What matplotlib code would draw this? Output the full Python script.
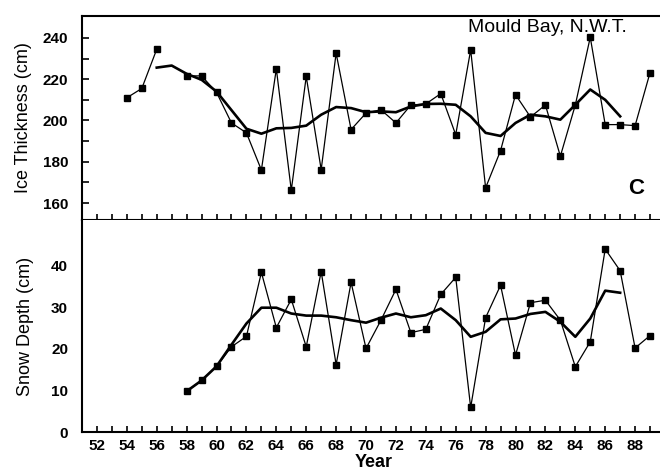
import matplotlib
matplotlib.use("Agg")
import matplotlib.pyplot as plt
import numpy as np

plt.rcParams['font.family'] = ['Liberation Sans', 'DejaVu Sans']

# Ice thickness at Mould Bay (cm), 1954-1989 (no value for 1957)
ice_years = list(range(54, 90))
ice_cm = [211, 215.5, 234.5, np.nan, 221.6, 221.6, 213.6, 198.8, 194, 176,
          225, 166.2, 221.3, 176.2, 232.6, 195.6, 203.6, 205.2, 198.8, 207.5,
          208, 213, 193.1, 234.2, 167.4, 185.4, 212.5, 201.7, 207.5, 182.7,
          207.5, 240.3, 198, 198, 197.5, 223.2]

# smoothed ice thickness, 1956-1987
ice_smooth_years = list(range(56, 88))
ice_smooth = [225.6, 226.6, 222.6, 219.7, 214, 205, 196, 193.6, 196.2, 196.4,
              197.5, 202.8, 206.5, 206, 204, 204.4, 204, 206.8, 208, 208.1,
              207.6, 202, 194, 192.5, 198.8, 202.8, 202, 200.4, 207.6, 215,
              210, 202]

# Snow depth (cm), 1958-1989
snow_years = list(range(58, 90))
snow_cm = [9.8, 12.4, 15.8, 20.5, 23, 38.4, 25.1, 31.9, 20.5, 38.6,
           16.2, 36, 20.1, 26.9, 34.3, 23.9, 24.7, 33.1, 37.2, 5.9,
           27.5, 35.3, 18.5, 31.1, 31.7, 26.9, 15.7, 21.7, 44, 38.8,
           20.2, 23.2]

# smoothed snow depth, 1958-1987
snow_smooth_years = list(range(58, 88))
snow_smooth = [9.8, 12.4, 15.8, 21, 26.1, 29.9, 29.9, 28.5, 28, 28,
               27.6, 26.9, 26.3, 27.5, 28.5, 27.6, 28.1, 29.7, 26.9, 22.9,
               24.1, 27.1, 27.3, 28.4, 28.9, 26.5, 22.9, 27.3, 34, 33.5]

W, H = 660, 474
fig = plt.figure(figsize=(6.6, 4.74), dpi=100)

x0, x1 = 82, 665
ax1 = fig.add_axes([x0 / W, 1 - 220 / H, (x1 - x0) / W, (220 - 16) / H])
ax2 = fig.add_axes([x0 / W, 1 - 432 / H, (x1 - x0) / W, (432 - 220) / H])

for ax in (ax1, ax2):
    ax.set_xlim(51, 90)
    ax.set_xticks(np.arange(52, 90, 2))
    ax.set_xticks(np.arange(51, 90, 1), minor=True)
    ax.tick_params(axis='x', which='both', direction='in', length=4, width=1.2)
    ax.tick_params(axis='y', which='both', direction='in', width=1.2)
    for s in ax.spines.values():
        s.set_linewidth(1.5)

# top panel
ax1.plot(ice_years, ice_cm, color='black', lw=0.9, marker='s', ms=4.5)
ax1.plot(ice_smooth_years, ice_smooth, color='black', lw=1.9)
ax1.set_ylim(151.8, 250.6)
ax1.set_yticks(np.arange(160, 241, 20))
ax1.set_yticks(np.arange(160, 241, 10), minor=True)
ax1.tick_params(axis='y', which='both', length=5, pad=10, labelsize=11)
ax1.tick_params(axis='x', which='both', labelbottom=False)
for t in ax1.get_yticklabels():
    t.set_fontweight('bold')
ax1.set_ylabel("Ice Thickness (cm)", fontsize=13, labelpad=8)
ax1.text(468 / W, 1 - 32 / H, "Mould Bay, N.W.T.", transform=fig.transFigure,
         fontsize=14, ha='left', va='baseline')
ax1.text(636 / W, 1 - 188 / H, "C", transform=fig.transFigure,
         fontsize=16, fontweight='bold', ha='center', va='center')

# bottom panel
ax2.plot(snow_years, snow_cm, color='black', lw=0.9, marker='s', ms=4.5)
ax2.plot(snow_smooth_years, snow_smooth, color='black', lw=1.9)
ax2.set_ylim(0, 51)
ax2.set_yticks(np.arange(0, 41, 10))
ax2.tick_params(axis='y', length=0, pad=10, labelsize=11)
ax2.tick_params(axis='x', which='major', pad=5, labelsize=11)
ax2.spines['top'].set_visible(False)
ax2.spines['right'].set_visible(False)
for t in ax2.get_yticklabels() + ax2.get_xticklabels():
    t.set_fontweight('bold')
ax2.set_ylabel("Snow Depth (cm)", fontsize=13, labelpad=12)
ax2.set_xlabel("Year", fontsize=13, fontweight='bold', labelpad=1)

fig.savefig("out.png", dpi=100)
